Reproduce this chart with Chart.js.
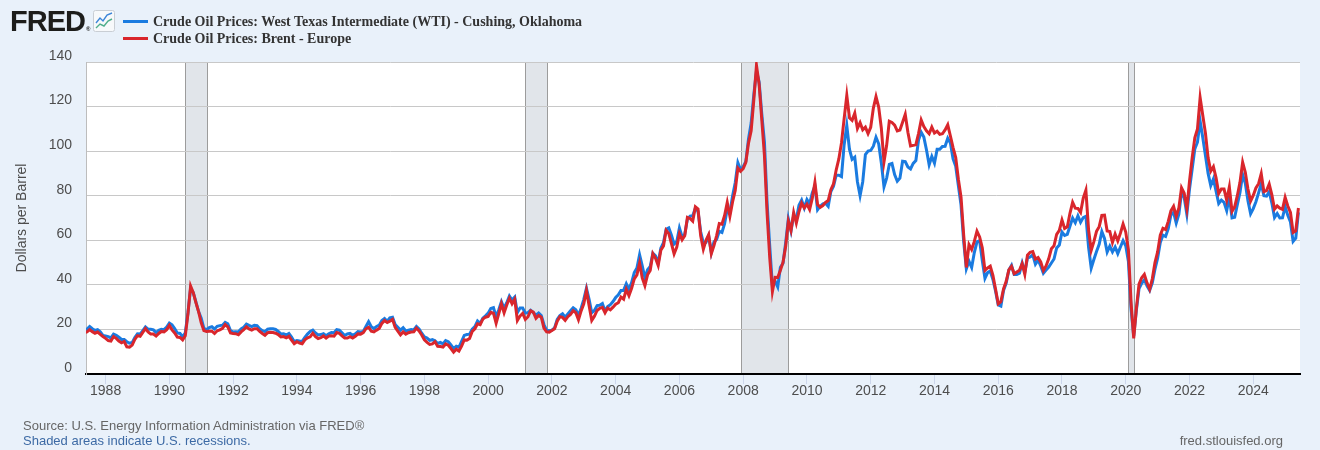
<!DOCTYPE html>
<html>
<head>
<meta charset="utf-8">
<script src="https://cdn.jsdelivr.net/npm/chart.js@4.4.1/dist/chart.umd.min.js"></script>
<style>
  html, body { margin: 0; padding: 0; background: #e9f1fa; }
  #wrap { position: relative; width: 1320px; height: 450px; overflow: hidden; font-family: "Liberation Sans", Arial, sans-serif; }
  #plot { position: absolute; left: 0; top: 0; width: 1320px; height: 450px; }
  .logo { position: absolute; left: 10px; top: 7px; font: bold 29px/29px "Liberation Sans", Arial, sans-serif; letter-spacing: -1px; color: #1d1d1b; }
  .logo sup { font-size: 6px; letter-spacing: 0; vertical-align: 0; margin-left: 1px; }
  .icon { position: absolute; left: 93px; top: 10px; }
  .swatch { position: absolute; left: 123px; width: 25px; height: 3px; }
  .series { position: absolute; left: 153px; font: bold 14px/17px "Liberation Serif", "Times New Roman", serif; color: #333; white-space: nowrap; }
  .foot { position: absolute; font: 13px/15px "Liberation Sans", Arial, sans-serif; color: #666; white-space: nowrap; }
</style>
</head>
<body>
<div id="wrap">
  <div id="plot"><canvas id="chart"></canvas></div>

  <div class="logo">FRED<sup>®</sup></div>
  <svg class="icon" width="22" height="22" viewBox="0 0 22 22">
    <rect x="0.5" y="0.5" width="21" height="21" rx="2" fill="#f7f9fb" stroke="#c9ced4"/>
    <polyline points="3,13 7,8 10,11 14,5 19,3" fill="none" stroke="#3d86d8" stroke-width="1.4"/>
    <polyline points="3,18 7,14 11,16 15,11 19,9" fill="none" stroke="#4fae8c" stroke-width="1.4"/>
  </svg>

  <div class="swatch" style="top:20px;background:#1a7be0"></div>
  <div class="series" style="top:13px">Crude Oil Prices: West Texas Intermediate (WTI) - Cushing, Oklahoma</div>
  <div class="swatch" style="top:37px;background:#d9262c"></div>
  <div class="series" style="top:30px">Crude Oil Prices: Brent - Europe</div>

  <div class="foot" style="left:23px;top:418px">Source: U.S. Energy Information Administration via FRED®</div>
  <div class="foot" style="left:23px;top:433px;color:#3d6aa5">Shaded areas indicate U.S. recessions.</div>
  <div class="foot" style="right:37px;top:433px">fred.stlouisfed.org</div>
</div>

<script>
// monthly series, first value = May 1987, last = Jun 2025
const firstMonth = "1987-05";

const wti = [
  19.4, 20.1, 21.3, 20.3, 19.5, 19.9, 18.9, 17.3,                          // 1987
  17.1, 16.8, 16.2, 17.9, 17.4, 16.5, 15.5, 15.5, 14.5, 13.8, 14.1, 16.4,  // 1988
  18.0, 17.9, 19.5, 21.1, 20.1, 20.1, 19.8, 18.6, 19.6, 20.1, 19.9, 21.1,  // 1989
  22.9, 22.1, 20.4, 18.4, 18.2, 16.7, 18.5, 27.5, 38.5, 36.5, 32.3, 28.0,  // 1990
  25.0, 20.5, 19.9, 20.8, 21.2, 20.2, 21.4, 21.7, 21.9, 23.2, 22.5, 19.5,  // 1991
  18.8, 19.0, 18.9, 20.2, 21.0, 22.4, 21.8, 21.3, 21.9, 21.7, 20.3, 19.4,  // 1992
  19.0, 20.1, 20.3, 20.3, 20.0, 19.1, 17.9, 18.0, 17.5, 18.2, 16.6, 14.5,  // 1993
  15.0, 14.8, 14.7, 16.4, 17.9, 19.1, 19.7, 18.4, 17.5, 17.7, 18.1, 17.2,  // 1994
  18.0, 18.6, 18.5, 19.9, 19.7, 18.5, 17.3, 18.0, 18.2, 17.4, 18.0, 19.0,  // 1995
  18.9, 19.1, 21.3, 23.5, 21.2, 20.4, 21.3, 21.9, 24.0, 24.9, 23.7, 25.2,  // 1996
  25.5, 22.2, 21.0, 19.7, 20.8, 19.3, 19.7, 20.0, 19.8, 21.3, 20.2, 18.3,  // 1997
  16.7, 16.1, 15.1, 15.4, 14.9, 13.7, 14.2, 13.5, 15.0, 14.5, 13.0, 11.4,  // 1998
  12.5, 12.0, 14.7, 17.3, 17.7, 17.9, 20.1, 21.3, 23.8, 22.7, 25.0, 26.1,  // 1999
  27.3, 29.4, 29.8, 25.7, 28.8, 32.5, 29.5, 32.0, 35.0, 33.2, 34.5, 27.5,  // 2000
  29.6, 29.6, 27.3, 27.5, 28.6, 27.6, 26.4, 27.4, 26.2, 22.2, 19.6, 19.4,  // 2001
  19.7, 20.7, 24.5, 26.2, 27.0, 25.5, 27.0, 28.4, 29.7, 28.8, 26.4, 29.5,  // 2002
  33.5, 38.5, 33.5, 27.5, 28.5, 30.7, 30.8, 31.6, 28.3, 30.3, 31.1, 32.5,  // 2003
  34.3, 35.5, 37.5, 37.5, 40.5, 38.0, 41.0, 45.5, 47.5, 53.5, 48.5, 43.2,  // 2004
  46.8, 48.2, 54.2, 53.0, 49.8, 56.4, 59.0, 65.0, 65.6, 62.3, 58.3, 59.4,  // 2005
  65.5, 61.6, 62.7, 69.4, 70.8, 71.0, 74.4, 73.0, 63.8, 58.9, 59.1, 62.0,  // 2006
  54.5, 59.3, 60.4, 64.0, 63.5, 67.5, 74.1, 72.4, 79.9, 85.8, 94.8, 91.7,  // 2007
  93.0, 95.4, 105.5, 112.6, 125.4, 136.0, 131.0, 116.7, 104.1, 76.6, 57.3, 39.5, // 2008
  41.7, 39.1, 47.9, 49.7, 59.0, 69.6, 64.2, 71.1, 69.4, 75.7, 78.0, 74.5,  // 2009
  78.3, 76.4, 81.2, 84.3, 73.7, 75.3, 76.3, 76.6, 75.2, 81.9, 84.3, 89.2,  // 2010
  89.2, 88.6, 102.9, 111.5, 100.9, 96.3, 97.3, 86.3, 80.0, 86.3, 98.5, 100.0, // 2011
  100.3, 102.2, 106.2, 103.3, 94.7, 84.0, 87.9, 94.1, 94.5, 89.5, 86.5, 87.9, // 2012
  95.5, 95.3, 92.9, 92.0, 94.5, 95.8, 105.0, 108.5, 106.3, 100.5, 93.9, 97.6, // 2013
  94.6, 100.8, 100.8, 102.1, 102.2, 105.8, 103.6, 96.5, 93.2, 84.4, 75.8, 59.3, // 2014
  47.2, 50.6, 47.8, 54.5, 59.3, 59.8, 50.9, 42.9, 45.5, 46.2, 42.4, 37.2,  // 2015
  31.0, 30.5, 37.5, 40.8, 46.7, 48.8, 44.7, 44.7, 45.2, 49.8, 45.7, 52.0,  // 2016
  52.5, 53.5, 49.3, 51.1, 48.5, 45.2, 46.6, 48.0, 49.8, 51.6, 56.6, 57.9,  // 2017
  63.7, 62.2, 62.7, 66.3, 70.0, 67.9, 71.0, 68.1, 70.2, 70.8, 57.0, 47.5,  // 2018
  51.4, 55.0, 58.2, 63.9, 60.8, 54.7, 57.4, 54.8, 57.0, 54.0, 57.0, 59.9,  // 2019
  57.5, 50.5, 29.2, 17.0, 28.6, 38.3, 40.7, 42.3, 39.6, 37.5, 40.9, 47.0,  // 2020
  52.0, 59.0, 62.3, 61.7, 65.2, 71.4, 72.5, 67.7, 71.7, 81.5, 79.2, 71.7,  // 2021
  83.0, 92.0, 101.0, 104.0, 113.5, 106.0, 98.0, 90.0, 84.5, 87.5, 82.0, 76.5, // 2022
  78.0, 77.0, 73.3, 79.5, 70.0, 70.3, 76.0, 81.5, 89.5, 85.6, 77.7, 71.9,  // 2023
  74.2, 77.3, 81.3, 85.4, 80.0, 79.8, 81.8, 76.7, 70.2, 72.0, 70.0, 70.1,  // 2024
  75.1, 71.2, 68.2, 59.5, 61.0, 72.5                                        // 2025
];

const brent = [
  18.6, 18.9, 19.9, 19.0, 18.3, 18.8, 17.8, 16.8,                          // 1987
  16.0, 15.0, 14.8, 16.8, 16.0, 14.8, 14.0, 14.6, 12.2, 12.0, 13.0, 15.5,  // 1988
  17.2, 16.9, 18.7, 20.4, 18.9, 17.9, 17.9, 17.0, 18.2, 19.1, 18.9, 19.9,  // 1989
  21.8, 19.8, 18.4, 16.6, 16.4, 15.3, 17.2, 27.0, 39.5, 36.5, 32.0, 28.0,  // 1990
  23.0, 19.5, 19.1, 19.2, 19.2, 18.2, 19.4, 19.8, 20.5, 22.2, 21.1, 18.4,  // 1991
  18.2, 18.1, 17.6, 18.9, 19.9, 21.2, 20.2, 19.7, 20.3, 20.3, 19.1, 18.2,  // 1992
  17.4, 18.5, 18.7, 18.6, 18.3, 17.7, 16.6, 16.8, 16.2, 16.9, 15.2, 13.6,  // 1993
  14.5, 13.9, 13.6, 15.3, 16.2, 16.7, 18.3, 16.8, 15.9, 16.3, 17.1, 16.1,  // 1994
  17.0, 17.2, 17.0, 18.6, 18.2, 17.1, 16.1, 16.1, 16.7, 16.1, 16.9, 18.0,  // 1995
  17.9, 18.6, 20.3, 21.0, 19.2, 18.9, 19.7, 20.4, 22.7, 24.0, 23.1, 23.7,  // 1996
  24.5, 20.9, 19.2, 17.6, 18.9, 17.9, 18.5, 18.8, 18.9, 20.6, 19.3, 17.5,  // 1997
  15.3, 14.2, 13.3, 13.5, 14.5, 12.4, 12.3, 12.1, 13.5, 12.9, 11.4, 9.8,   // 1998
  11.1, 10.3, 12.5, 15.3, 15.2, 15.9, 19.1, 20.3, 22.5, 22.1, 24.6, 25.5,  // 1999
  25.8, 27.7, 27.3, 22.8, 27.1, 31.5, 27.5, 31.0, 34.0, 31.5, 33.5, 24.0,  // 2000
  26.0, 27.2, 24.5, 25.7, 28.4, 27.8, 25.0, 26.3, 25.5, 20.6, 18.9, 18.8,  // 2001
  19.5, 20.3, 23.7, 25.7, 25.4, 24.1, 25.7, 26.7, 28.4, 27.5, 24.3, 28.3,  // 2002
  31.5, 37.5, 30.6, 24.0, 25.9, 28.5, 29.5, 29.9, 27.5, 29.6, 28.8, 30.0,  // 2003
  31.3, 32.0, 34.5, 33.6, 38.0, 35.2, 38.5, 42.7, 44.5, 49.8, 43.1, 39.6,  // 2004
  44.5, 46.5, 54.0, 51.9, 48.7, 55.5, 57.5, 64.5, 63.0, 58.5, 53.9, 56.9,  // 2005
  63.0, 60.2, 62.1, 70.3, 69.8, 68.6, 75.0, 74.0, 62.0, 56.0, 60.0, 62.5,  // 2006
  54.0, 57.6, 62.1, 67.5, 67.2, 71.1, 77.0, 70.8, 77.2, 82.3, 92.4, 91.0,  // 2007
  92.2, 95.0, 103.6, 109.1, 123.0, 138.5, 130.0, 114.0, 98.0, 72.0, 52.0, 37.0, // 2008
  43.4, 43.3, 46.5, 50.2, 57.3, 68.6, 64.4, 72.5, 67.7, 72.8, 76.7, 74.5,  // 2009
  76.2, 73.8, 78.8, 86.0, 76.0, 74.8, 75.6, 77.0, 77.8, 82.7, 85.3, 91.5,  // 2010
  96.5, 103.7, 114.6, 125.0, 115.0, 113.8, 117.0, 110.2, 112.8, 109.6, 110.8, 107.9, // 2011
  110.7, 119.3, 124.5, 119.8, 110.3, 95.2, 102.6, 113.4, 112.9, 111.7, 109.1, 109.5, // 2012
  113.0, 116.5, 108.5, 102.3, 102.6, 102.9, 107.9, 114.0, 111.0, 109.1, 107.8, 110.8, // 2013
  108.1, 108.9, 107.5, 107.8, 109.5, 111.8, 106.8, 101.6, 97.1, 87.4, 79.4, 62.3, // 2014
  47.8, 58.1, 55.9, 59.5, 64.1, 61.5, 56.6, 46.5, 47.6, 48.4, 44.3, 38.0,  // 2015
  31.5, 32.5, 38.2, 41.6, 46.7, 48.3, 45.0, 45.8, 46.6, 49.5, 44.7, 53.3,  // 2016
  54.6, 54.9, 51.6, 52.3, 50.3, 46.4, 48.5, 51.7, 56.2, 57.5, 62.7, 64.4,  // 2017
  69.1, 65.3, 66.0, 72.1, 77.0, 74.4, 74.3, 72.5, 78.9, 82.5, 64.8, 55.5,  // 2018
  59.4, 64.0, 66.1, 71.2, 71.3, 64.2, 63.9, 59.0, 62.8, 59.7, 63.2, 67.3,  // 2019
  63.7, 55.7, 32.0, 16.0, 29.4, 40.3, 43.2, 44.7, 40.9, 38.0, 42.7, 50.0,  // 2020
  54.8, 62.3, 65.4, 64.8, 68.5, 73.2, 75.2, 70.8, 74.5, 83.5, 81.1, 74.2,  // 2021
  86.5, 97.0, 106.0, 110.0, 124.0, 116.0, 108.0, 97.0, 91.0, 93.0, 88.0, 81.0, // 2022
  83.0, 83.0, 78.0, 84.0, 73.0, 75.0, 80.0, 86.0, 95.0, 90.5, 83.0, 77.6,  // 2023
  80.1, 83.5, 85.4, 89.9, 81.8, 82.3, 85.2, 80.4, 74.0, 75.4, 74.4, 73.9,  // 2024
  79.3, 75.4, 72.5, 63.5, 64.2, 74.5                                        // 2025
];

const xTickYears = [1988, 1990, 1992, 1994, 1996, 1998, 2000, 2002, 2004, 2006,
                    2008, 2010, 2012, 2014, 2016, 2018, 2020, 2022, 2024];
const yTickValues = [0, 20, 40, 60, 80, 100, 120, 140];

// recession shading (peak month to trough month)
const recessionStarts = ["1990-07", "2001-03", "2007-12", "2020-02"];
const recessionEnds   = ["1991-03", "2001-11", "2009-06", "2020-04"];

// visible date range of the x axis
const rangeStart = "1987-05-20";
const rangeEnd = "2025-06-19";

// "YYYY-MM" or "YYYY-MM-DD" -> decimal year
function toYear(s) {
  const p = s.split("-").map(Number);
  return p[0] + (p[1] - 1) / 12 + ((p[2] || 1) - 1) / 365;
}

function monthly(values) {
  const start = toYear(firstMonth);
  return values.map((v, i) => ({ x: start + i / 12, y: v }));
}

const backdrop = {
  id: "backdrop",
  beforeDraw(chart) {
    const { ctx, chartArea: a } = chart;
    const xs = chart.scales.x;
    ctx.save();
    ctx.fillStyle = "#ffffff";
    ctx.fillRect(a.left, a.top, a.right - a.left, a.bottom - a.top);
    recessionStarts.forEach((s, i) => {
      const x0 = Math.round(xs.getPixelForValue(toYear(s)));
      const x1 = Math.round(xs.getPixelForValue(toYear(recessionEnds[i])));
      ctx.fillStyle = "#e1e5ea";
      ctx.fillRect(x0, a.top, x1 - x0, a.bottom - a.top);
      ctx.strokeStyle = "#9c9c9c";
      ctx.lineWidth = 1;
      ctx.beginPath();
      ctx.moveTo(x0 + 0.5, a.top); ctx.lineTo(x0 + 0.5, a.bottom);
      ctx.moveTo(x1 + 0.5, a.top); ctx.lineTo(x1 + 0.5, a.bottom);
      ctx.stroke();
    });
    ctx.restore();
  }
};

Chart.defaults.font.family = '"Liberation Sans", Arial, sans-serif';

new Chart(document.getElementById("chart"), {
  type: "line",
  data: {
    datasets: [
      {
        label: "Crude Oil Prices: West Texas Intermediate (WTI) - Cushing, Oklahoma",
        data: monthly(wti),
        borderColor: "#1a7be0",
        borderWidth: 3,
        pointRadius: 0,
        tension: 0,
        clip: 0,
        order: 2,
      },
      {
        label: "Crude Oil Prices: Brent - Europe",
        data: monthly(brent),
        borderColor: "#d9262c",
        borderWidth: 3,
        pointRadius: 0,
        tension: 0,
        clip: 0,
        order: 1,
      },
    ],
  },
  options: {
    responsive: true,
    maintainAspectRatio: false,
    animation: false,
    events: [],
    layout: { padding: { left: 0, top: 62, right: 20, bottom: 0 } },
    scales: {
      x: {
        type: "linear",
        min: toYear(rangeStart),
        max: toYear(rangeEnd),
        afterBuildTicks: (s) => { s.ticks = xTickYears.map((v) => ({ value: v })); },
        afterFit: (s) => { s.height = 76; },
        grid: { drawOnChartArea: false, drawTicks: true, tickLength: 10, tickColor: "#ccd6eb", tickWidth: 1 },
        border: { display: true, color: "#000000", width: 2 },
        ticks: {
          color: "#4d4d4d",
          font: { size: 14 },
          padding: -1,
          maxRotation: 0,
          autoSkip: false,
          callback: (v) => String(v),
        },
      },
      y: {
        min: 0,
        max: 140,
        afterBuildTicks: (s) => { s.ticks = yTickValues.map((v) => ({ value: v })); },
        afterFit: (s) => { s.width = 86; },
        grid: {
          color: (c) => (c.tick && c.tick.value === 0 ? "rgba(0,0,0,0)" : "#c8c8c8"),
          lineWidth: 1,
          drawTicks: false,
        },
        border: { display: true, color: "#bdbdbd", width: 1 },
        ticks: { color: "#4d4d4d", font: { size: 14 }, padding: 14, labelOffset: -6 },
        title: {
          display: true,
          text: "Dollars per Barrel",
          color: "#4d4d4d",
          font: { size: 14 },
          padding: { top: 14, bottom: 0 },
        },
      },
    },
    plugins: {
      legend: { display: false },
      tooltip: { enabled: false },
    },
  },
  plugins: [backdrop],
});
</script>
</body>
</html>
